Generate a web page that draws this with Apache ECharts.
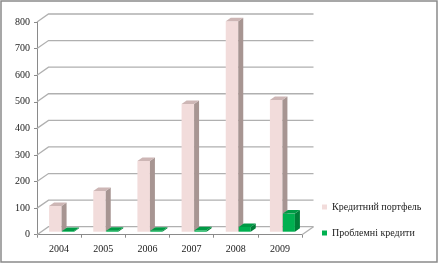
<!DOCTYPE html>
<html><head><meta charset="utf-8">
<script src="https://cdn.jsdelivr.net/npm/echarts@6/dist/echarts.min.js"></script>
<style>html,body{margin:0;padding:0;background:#fff}#c{width:439px;height:264px}</style>
</head><body><div id="c"></div>
<script>
const years = ['2004','2005','2006','2007','2008','2009'];
const portfolio = [97, 153, 266, 480, 792, 495];
const problem = [3, 4, 4, 5, 18, 68];
const yTicks = [0,100,200,300,400,500,600,700,800];
const seriesNames = ['Кредитний портфель','Проблемні кредити'];

const FONT = 'Liberation Serif';
const WDX = 11.5, WDY = -8;

function barRender(off0, off1, front, side, top) {
  return function (params, api) {
    const i = api.value(0), v = api.value(1);
    const p0 = api.coord([i, 0]);
    const p1 = api.coord([i, v]);
    const cx = p0[0];
    const yb = p0[1] - 3, yt = p1[1] - 3;
    const x0 = cx + off0, x1 = cx + off1;
    const d = 5, e = 3.5;
    return {
      type: 'group',
      children: [
        {type: 'rect', shape: {x: x0, y: yt, width: x1 - x0, height: yb - yt}, style: {fill: front}},
        {type: 'polygon', shape: {points: [[x1, yt], [x1 + d, yt - e], [x1 + d, yb - e], [x1, yb]]}, style: {fill: side}},
        {type: 'polygon', shape: {points: [[x0, yt], [x0 + d, yt - e], [x1 + d, yt - e], [x1, yt]]}, style: {fill: top}}
      ]
    };
  };
}

function wallRender(params, api) {
  const cs = params.coordSys;
  const v = api.value(1);
  const y = api.coord([0, v])[1];
  const left = cs.x, right = cs.x + cs.width;
  const children = [
    {type: 'polyline', shape: {points: [[left, y], [left + WDX, y + WDY], [right + WDX, y + WDY]]},
     style: {stroke: '#b0b0b0', lineWidth: 1.3, fill: null}}
  ];
  if (v === 0) {
    children.push({type: 'line', shape: {x1: right, y1: y, x2: right + WDX, y2: y + WDY},
      style: {stroke: '#b0b0b0', lineWidth: 1.3}});
  }
  return {type: 'group', children};
}

const chart = echarts.init(document.getElementById('c'));
chart.setOption({
  animation: false,
  backgroundColor: '#fff',
  textStyle: {fontFamily: FONT},
  graphic: [{type: 'rect', shape: {x: 1, y: 1, width: 436, height: 261},
    style: {fill: null, stroke: '#8a8a8a', lineWidth: 1.5}, z: 100}],
  grid: {left: 37, right: 137, top: 22, bottom: 29.3},
  legend: {
    orient: 'vertical', left: 317, top: 196, itemWidth: 5, itemHeight: 5, itemGap: 14,
    icon: 'rect',
    textStyle: {fontFamily: FONT, fontSize: 10, color: '#222', lineHeight: 12},
    data: [
      {name: seriesNames[0], itemStyle: {color: '#F2DCDB'}},
      {name: seriesNames[1], itemStyle: {color: '#00B050'}}
    ]
  },
  xAxis: {
    type: 'category', data: years,
    axisLine: {lineStyle: {color: '#8a8a8a', width: 1}},
    axisTick: {show: true, length: 3, lineStyle: {color: '#8a8a8a'}},
    axisLabel: {fontFamily: FONT, fontSize: 10, color: '#222', margin: 10},
    splitLine: {show: false}
  },
  yAxis: {
    type: 'value', min: 0, max: 800, interval: 100,
    axisLine: {show: true, lineStyle: {color: '#8a8a8a', width: 1}},
    axisTick: {show: true, length: 3, lineStyle: {color: '#8a8a8a'}},
    axisLabel: {fontFamily: FONT, fontSize: 10, color: '#222', margin: 7},
    splitLine: {show: false}
  },
  series: [
    {type: 'custom', name: 'wall', renderItem: wallRender, silent: true, z: 1,
     data: yTicks.map(v => [0, v]), encode: {x: 0, y: 1}},
    {type: 'custom', name: seriesNames[0], z: 2, itemStyle: {color: '#F2DCDB'},
     renderItem: barRender(-10, 2.5, '#F2DCDB', '#A79592', '#CDB6B5'),
     data: portfolio.map((v, i) => [i, v]), encode: {x: 0, y: 1}},
    {type: 'custom', name: seriesNames[1], z: 3, itemStyle: {color: '#00B050'},
     renderItem: barRender(3, 15, '#00B050', '#007E38', '#009A45'),
     data: problem.map((v, i) => [i, v]), encode: {x: 0, y: 1}}
  ]
});
</script>
</body></html>
